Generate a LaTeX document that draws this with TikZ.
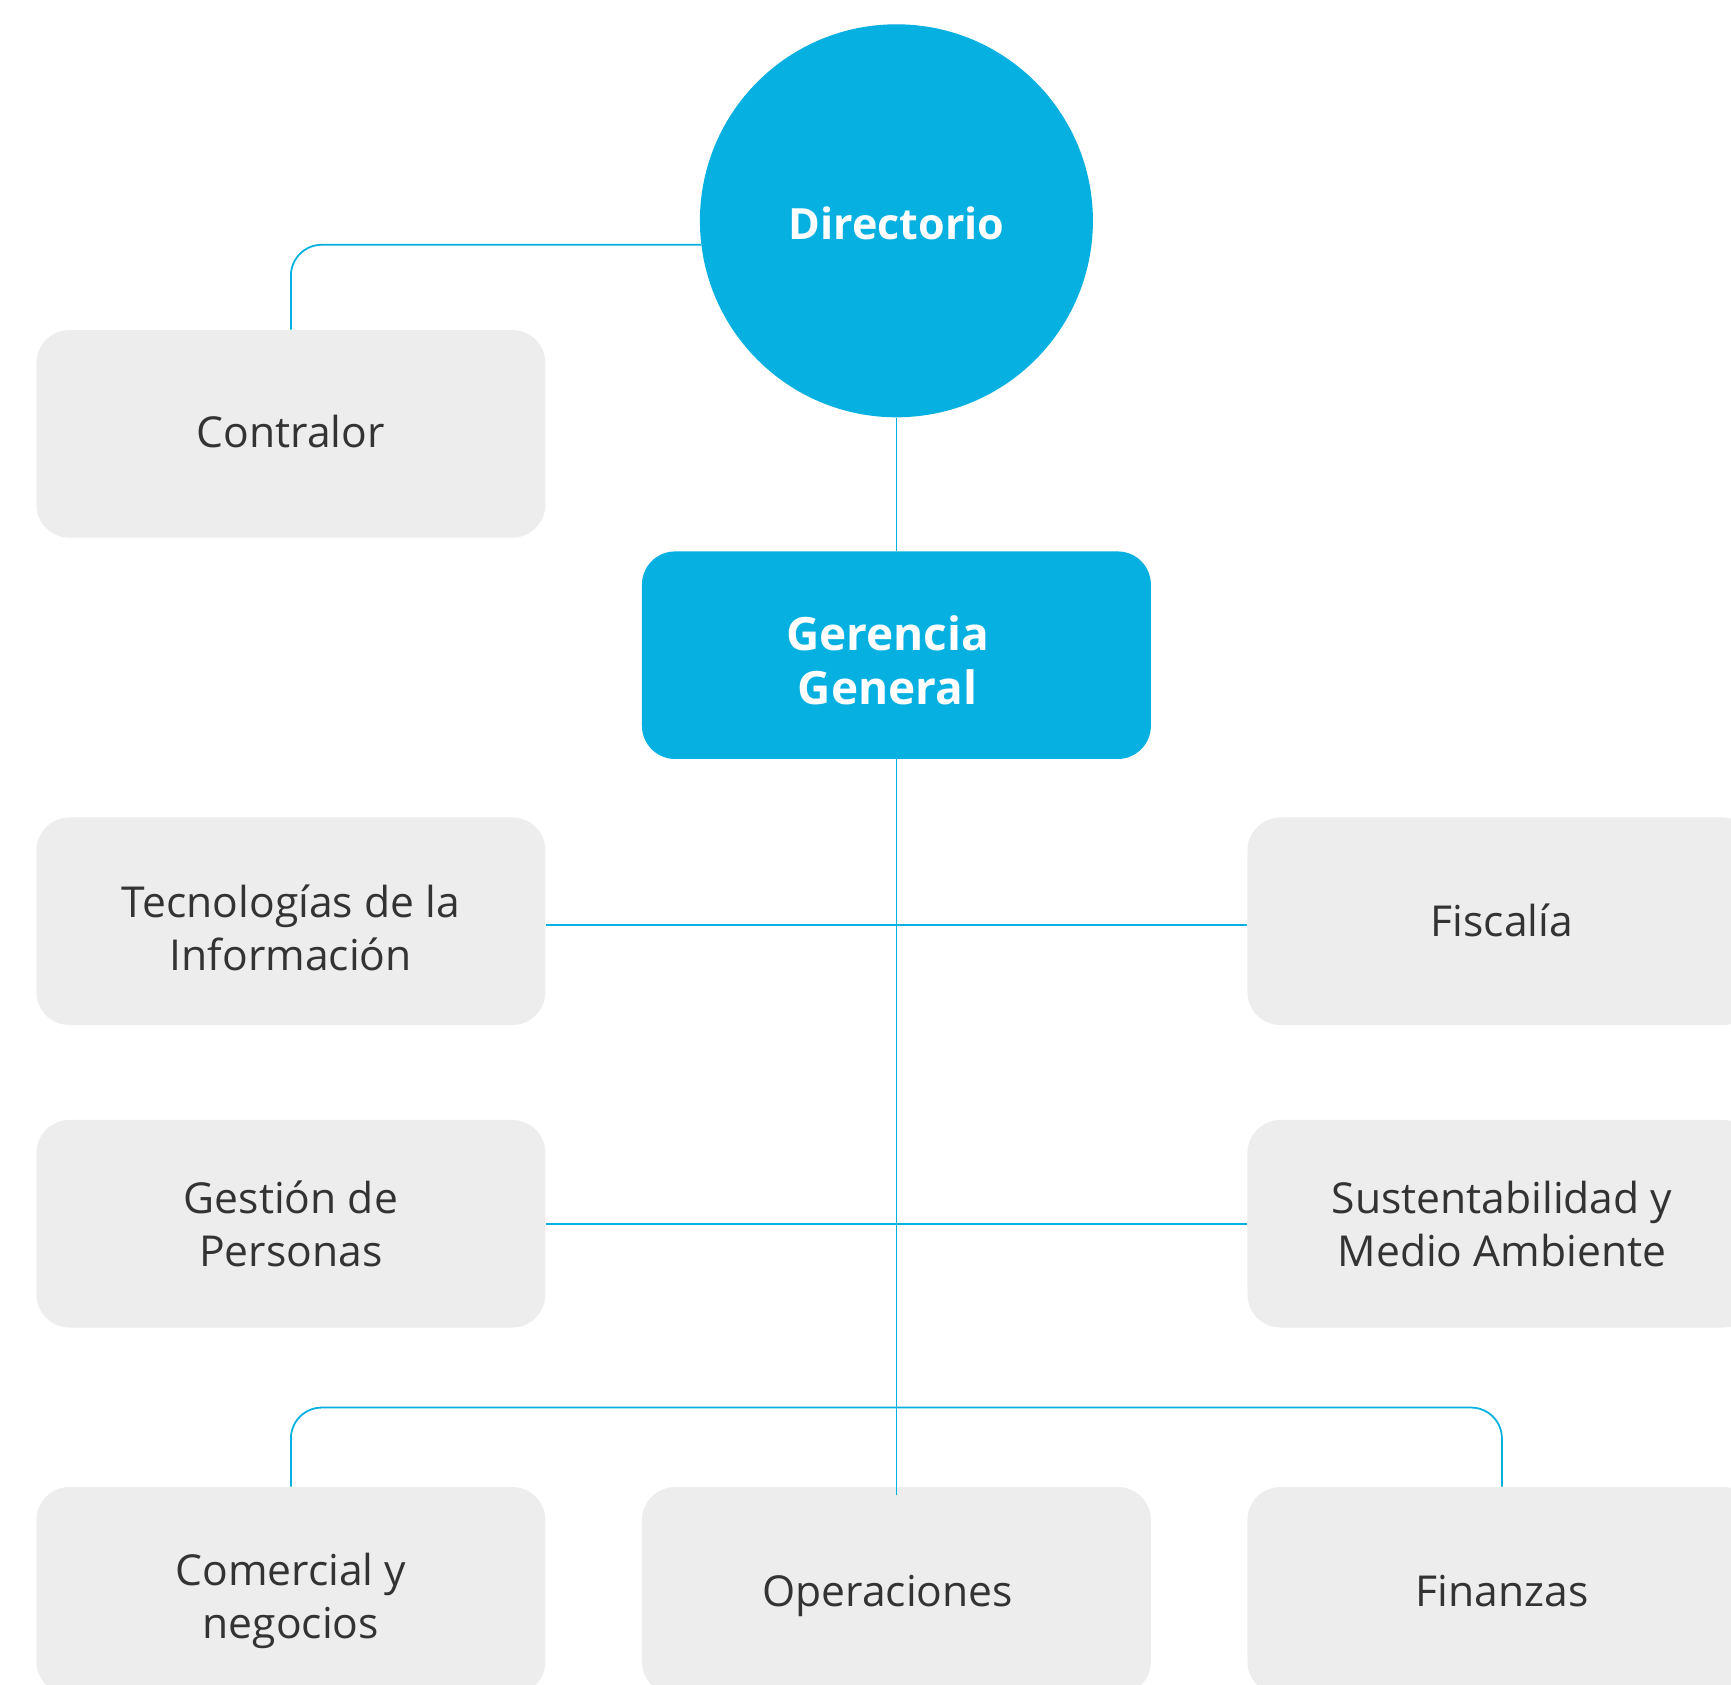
\documentclass[tikz,border=0pt]{standalone}
\usepackage{fontspec}
\setmainfont{Open Sans}
\usetikzlibrary{calc}
\definecolor{brand}{RGB}{6,176,224}
\definecolor{boxgray}{RGB}{237,237,237}
\definecolor{txt}{RGB}{51,51,51}
\tikzset{
  x=0.5pt, y=-0.5pt,
  unit/.style={rectangle, rounded corners=15pt, fill=boxgray,
    minimum width=230.5pt, minimum height=94pt, inner sep=0pt},
  chief/.style={unit, fill=brand},
  lbl/.style={align=center, text=txt, inner sep=0pt,
    font=\fontsize{19.3}{24}\selectfont},
  chieflbl/.style={lbl, text=white, font=\bfseries\fontsize{20.8}{24.5}\selectfont},
  topcircle/.style={circle, fill=brand, text=white, minimum size=178pt, inner sep=0pt,
    font=\bfseries\fontsize{19.5}{24}\selectfont},
  conn/.style={draw=brand, line width=0.8pt, rounded corners=14pt}
}
\begin{document}
\begin{tikzpicture}
\useasboundingbox (0,0) rectangle (1568,1526);
\clip (0,0) rectangle (1568,1526);
\fill[white] (0,0) rectangle (1568,1526);

\node[topcircle] (dir) at (812,200) {};
\node[unit] (con) at (263.5,393) {};
\node[chief] (ger) at (812,593.5) {};
\node[unit] (tec) at (263.5,834.5) {};
\node[unit] (fis) at (1360.5,834.5) {};
\node[unit] (ges) at (263.5,1108.5) {};
\node[unit] (sus) at (1360.5,1108.5) {};
\node[unit] (com) at (263.5,1441) {};
\node[unit] (ope) at (812,1441) {};
\node[unit] (fin) at (1360.5,1441) {};

\node[topcircle, fill=none, minimum size=0pt, yshift=-1pt] (dirt) at (dir) {Directorio};
\node[lbl, yshift=1pt] (cont) at (con) {Contralor};
\node[chieflbl, xshift=-4pt, yshift=-2.3pt] (gert) at (ger) {Gerencia\\General};
\node[lbl, yshift=-3pt] (tect) at (tec) {Tecnologías de la\\Información};
\node[lbl, yshift=0.5pt] (fist) at (fis) {Fiscalía};
\node[lbl] (gest) at (ges) {Gestión de\\Personas};
\node[lbl] (sust) at (sus) {Sustentabilidad y\\Medio Ambiente};
\node[lbl, yshift=-4.8pt] (comt) at (com) {Comercial y\\negocios};
\node[lbl, xshift=-4pt, yshift=-2.5pt] (opet) at (ope) {Operaciones};
\node[lbl] (fint) at (fin) {Finanzas};

\coordinate (bus) at (812,1275);
\coordinate (opeend) at ($(ope.north)+(0,8)$);

\draw[conn] (dir.187.1) -| (con.north);
\draw[conn] (dir.south) -- (ger.north);
\draw[conn] (ger.south) -- (opeend);
\draw[conn] ([yshift=-1.75pt]tec.east) -- ([yshift=-1.75pt]fis.west);
\draw[conn] (ges.east) -- (sus.west);
\draw[conn] (com.north) |- (bus) -| (fin.north);
\end{tikzpicture}
\end{document}
